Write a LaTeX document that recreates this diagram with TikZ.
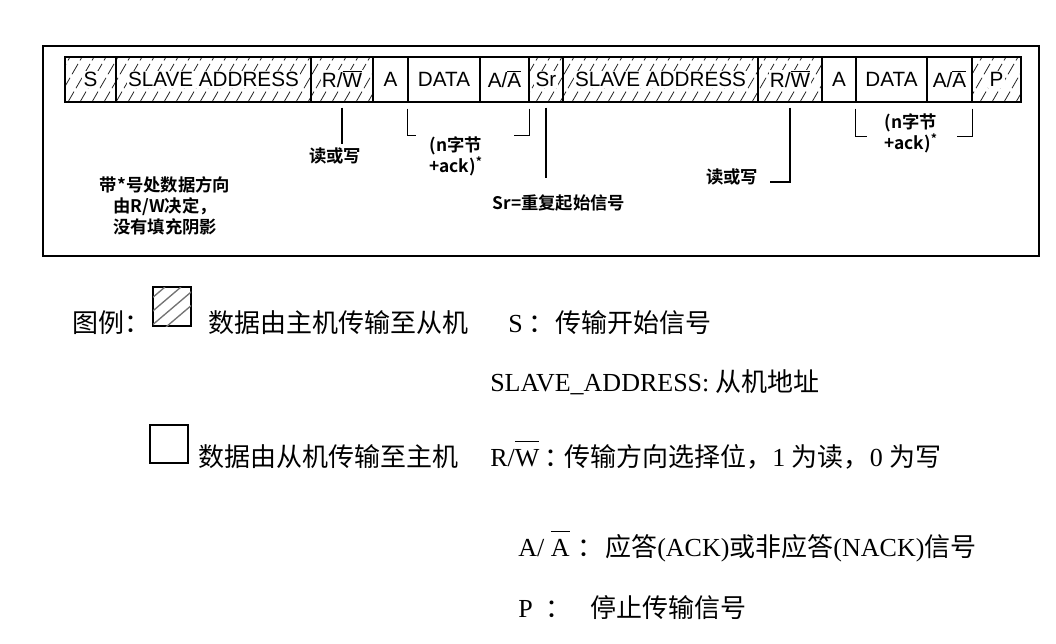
\documentclass[tikz,border=0pt]{standalone}
\usepackage{fontspec}
\setmainfont{Liberation Serif}
\newfontfamily\barfont{Liberation Sans}
\newfontfamily\zh{Noto Sans CJK SC}
\newfontfamily\zhb{Noto Sans CJK SC Bold}
\usetikzlibrary{fit,calc}
\newcommand\olin[3]{\leavevmode\vbox{\hrule height #1\kern #2\hbox{#3}}}
\begin{document}
\begin{tikzpicture}[x=0.75pt,y=-0.75pt,
  cell/.style={draw, line width=0.9pt, inner sep=0pt},
  blab/.style={font=\barfont\fontsize{15.5}{18}\selectfont, fill=white, inner sep=1pt},
  ann/.style={font=\zhb\fontsize{13}{15.5}\selectfont, align=center, inner sep=0pt},
  conn/.style={line width=1.2pt},
  frame/.style={draw, line width=1.6pt, inner sep=0pt},
  hatch/.style={line width=0.6pt, black!85, dash pattern=on 9pt off 3pt},
  leg/.style={font=\fontsize{19.5}{23}\selectfont, anchor=base west, inner sep=0pt},
  legzh/.style={leg, font=\zh\fontsize{19.5}{23}\selectfont},
  legsq/.style={draw, line width=1pt, inner sep=0pt}]
\useasboundingbox (0,0) rectangle (1056,643);

% hatching of the master-to-slave fields
\begin{scope}
  \clip (65,57) rectangle (373,102) (529,57) rectangle (822,102) (972,57) rectangle (1021,102);
  \foreach \x in {20,32,...,1040} \draw[hatch] (\x,102) -- ++(26,-45);
\end{scope}

% frame fields
\node[cell, fit={(65,57)(116,102)}] (s) {};
\node[cell, fit={(116,57)(311,102)}] (sa1) {};
\node[cell, fit={(311,57)(373,102)}] (rw1) {};
\node[cell, fit={(373,57)(408,102)}] (a1) {};
\node[cell, fit={(408,57)(480,102)}] (d1) {};
\node[cell, fit={(480,57)(529,102)}] (aa1) {};
\node[cell, fit={(529,57)(563,102)}] (sr) {};
\node[cell, fit={(563,57)(758,102)}] (sa2) {};
\node[cell, fit={(758,57)(822,102)}] (rw2) {};
\node[cell, fit={(822,57)(856,102)}] (a2) {};
\node[cell, fit={(856,57)(927,102)}] (d2) {};
\node[cell, fit={(927,57)(972,102)}] (aa2) {};
\node[cell, fit={(972,57)(1021,102)}] (p) {};

\node[blab] at (s) {S};
\node[blab] at (sa1) {SLAVE ADDRESS};
\node[blab] at (rw1) {R/\olin{0.7pt}{1.2pt}{W}};
\node[blab] at (a1) {A};
\node[blab] at (d1) {DATA};
\node[blab] at (aa1) {A/\olin{0.7pt}{1.2pt}{A}};
\node[blab] at (sr) {Sr};
\node[blab] at (sa2) {SLAVE ADDRESS};
\node[blab] at (rw2) {R/\olin{0.7pt}{1.2pt}{W}};
\node[blab] at (a2) {A};
\node[blab] at (d2) {DATA};
\node[blab] at (aa2) {A/\olin{0.7pt}{1.2pt}{A}};
\node[blab] at (p) {P};

% annotations
\node[ann] (l1) at (335,156) {读或写};
\draw[conn] ($(rw1.south)+(0,5)$) -- ($(rw1.south)+(0,41)$);

\draw[conn] ($(d1.south west)+(0,6)$) |- ++(9,27);
\draw[conn] ($(aa1.south east)+(0,6)$) |- ++(-16,27);
\node[ann] (n1) at (456,156) {(n字节\\+ack)\textsuperscript{*}};

\node[ann] (srl) at (559,203) {Sr=重复起始信号};
\draw[conn] ($(sr.south)+(0,5)$) -- ++(0,70);

\node[ann] (l2) at (732,177) {读或写};
\draw[conn] ($(rw2.south)+(0,5)$) |- ($(l2.east)+(12,5)$);

\draw[conn] ($(d2.south west)+(0,6)$) |- ++(12,28);
\draw[conn] ($(aa2.south east)+(0,6)$) |- ++(-16,28);
\node[ann] (n2) at (911,133) {(n字节\\+ack)\textsuperscript{*}};

\node[ann] (note) at (165,206) {带*号处数据方向\\由R/W决定，\\没有填充阴影};

\node[frame, fit={(43,46)(1039,256)}] (fr) {};

% legend
\node[legzh] (tl) at (72,332) {图例：};
\node[legsq, fit={(153,287)(191,326)}] (hsq) {};
\begin{scope}
  \clip (153,287) rectangle (191,326);
  \foreach \x in {165,181,197,213} \draw[black!55, line width=1pt] (\x,287) -- ++(-47,40);
\end{scope}
\node[legzh] (t1) at (208,332) {数据由主机传输至从机};
\node[leg] (ks) at (508,332) {S};
\node[legzh] (cs) at (528,332) {：};
\node[legzh] (vs) at (555,332) {传输开始信号};

\node[leg] (ksa) at (490,391) {SLAVE\_ADDRESS: {\zh 从机地址}};

\node[legsq, fit={(150,425)(188,463)}] (esq) {};
\node[legzh] (t2) at (198,466) {数据由从机传输至主机};
\node[leg] (krw) at (490,466) {R/\olin{0.8pt}{5pt}{W}};
\node[legzh] (crw) at (544,466) {：};
\node[legzh] (vrw) at (564,466) {传输方向选择位，{\rmfamily 1 }为读，{\rmfamily 0 }为写};

\node[leg] (kaa) at (518,556) {A/ \olin{0.8pt}{5pt}{A}};
\node[legzh] (caa) at (577,556) {：};
\node[legzh] (vaa) at (605,556) {应答{\rmfamily(ACK)}或非应答{\rmfamily(NACK)}信号};

\node[leg] (kp) at (518,617) {P};
\node[legzh] (cp) at (545,617) {：};
\node[legzh] (vp) at (590,617) {停止传输信号};
\end{tikzpicture}
\end{document}
